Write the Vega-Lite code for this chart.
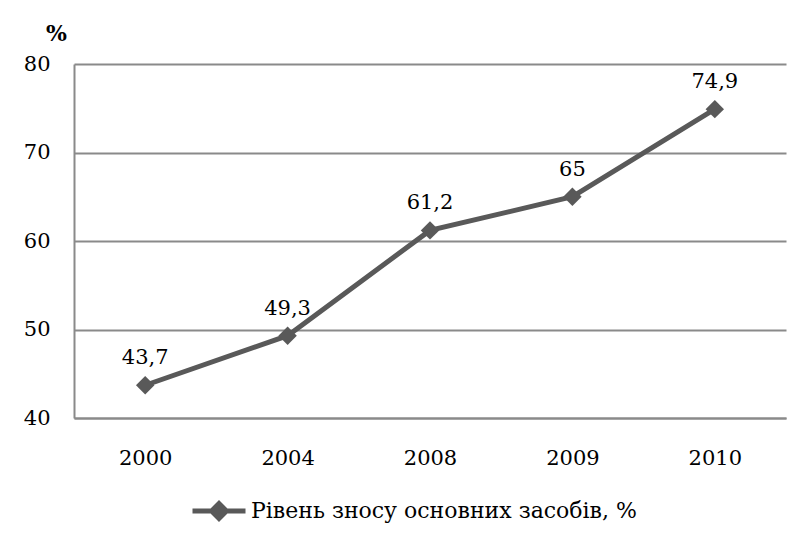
{
  "$schema": "https://vega.github.io/schema/vega-lite/v6.json",
  "width": 712,
  "height": 354,
  "autosize": {"type": "none"},
  "padding": {"left": 74, "top": 64, "right": 25, "bottom": 136},
  "background": "white",
  "config": {
    "font": "DejaVu Serif",
    "view": {"stroke": null},
    "locale": {
      "number": {"decimal": ",", "thousands": " ", "grouping": [3], "currency": ["", ""]}
    }
  },
  "data": {
    "values": [
      {"year": "2000", "value": 43.7, "series": "Рівень зносу основних засобів, %"},
      {"year": "2004", "value": 49.3, "series": "Рівень зносу основних засобів, %"},
      {"year": "2008", "value": 61.2, "series": "Рівень зносу основних засобів, %"},
      {"year": "2009", "value": 65, "series": "Рівень зносу основних засобів, %"},
      {"year": "2010", "value": 74.9, "series": "Рівень зносу основних засобів, %"}
    ]
  },
  "encoding": {
    "x": {
      "field": "year",
      "type": "ordinal",
      "sort": null,
      "axis": {
        "title": null,
        "labelAngle": 0,
        "ticks": false,
        "domainColor": "#8a8a8a",
        "domainWidth": 2,
        "labelFontSize": 21,
        "labelColor": "black",
        "labelPadding": 29
      }
    },
    "y": {
      "field": "value",
      "type": "quantitative",
      "scale": {"domain": [40, 80], "nice": false, "zero": false},
      "axis": {
        "values": [40, 50, 60, 70, 80],
        "ticks": false,
        "domainColor": "#8a8a8a",
        "domainWidth": 2,
        "gridColor": "#8a8a8a",
        "gridWidth": 2,
        "labelFontSize": 21,
        "labelColor": "black",
        "labelPadding": 24,
        "title": "%",
        "titleAngle": 0,
        "titleFontSize": 22,
        "titleFontWeight": "bold",
        "titleColor": "black",
        "titleAlign": "center",
        "titleBaseline": "middle",
        "titleX": -18,
        "titleY": -31
      }
    }
  },
  "layer": [
    {
      "mark": {"type": "line", "strokeWidth": 5},
      "encoding": {
        "color": {
          "field": "series",
          "type": "nominal",
          "scale": {"range": ["#595959"]},
          "legend": {
            "orient": "none",
            "legendX": 116,
            "legendY": 418,
            "title": null,
            "padding": 0,
            "symbolType": "M-1,0H1M-0.28,0L0,-0.28L0.28,0L0,0.28Z",
            "symbolSize": 2809,
            "symbolStrokeWidth": 5,
            "symbolFillColor": "#595959",
            "labelFontSize": 22,
            "labelColor": "black",
            "labelOffset": 3,
            "labelLimit": 600
          }
        }
      }
    },
    {
      "mark": {"type": "point", "shape": "diamond", "filled": true, "size": 340, "opacity": 1, "color": "#595959"}
    },
    {
      "mark": {"type": "text", "dy": -27, "fontSize": 21, "color": "black", "baseline": "middle"},
      "encoding": {"text": {"field": "value", "type": "quantitative", "format": ".1~f"}}
    }
  ]
}
